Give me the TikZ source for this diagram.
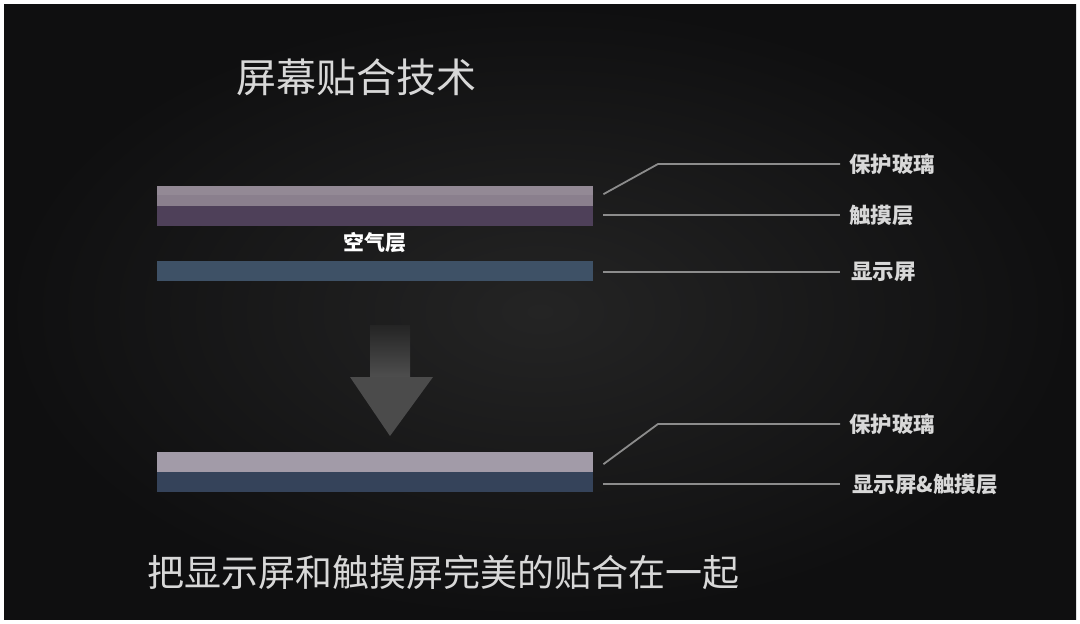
\documentclass[tikz,border=0pt]{standalone}
\usepackage{fontspec}
\setmainfont{Noto Sans CJK SC}
\newfontfamily\cjk{Noto Sans CJK SC}
\definecolor{bgin}{HTML}{242424}
\definecolor{bgout}{HTML}{0F0F10}
\definecolor{glassA}{HTML}{8A7F8D}
\definecolor{touchA}{HTML}{4E4059}
\definecolor{dispA}{HTML}{3E5166}
\definecolor{glassB}{HTML}{A29BA8}
\definecolor{dispB}{HTML}{35435A}
\definecolor{leader}{HTML}{8C8C8C}
\definecolor{txt}{HTML}{D8D8D8}
\begin{document}
\begin{tikzpicture}[x=1pt,y=-1pt,
  layer/.style={draw=none,minimum width=436pt,minimum height=20pt,inner sep=0pt,anchor=north west},
  leadline/.style={draw=leader,line width=1.8pt},
  lbl/.style={anchor=west,inner sep=0pt,text=txt,font=\cjk\bfseries\fontsize{21.5}{21.5}\selectfont},
  bigtxt/.style={anchor=west,inner sep=0pt,text=txt,font=\cjk\fontsize{37}{37}\selectfont}]
\useasboundingbox (0,0) rectangle (1080,624);
\fill[white] (0,0) rectangle (1080,624);
\shade[inner color=bgin,outer color=bgout] (4,4) rectangle (1076,619);
% title
\node[bigtxt,font=\cjk\fontsize{40}{40}\selectfont] (title) at (236,77) {屏幕贴合技术};
% upper stack
\node[layer,fill=glassA] (g1) at (157,186) {};
\fill[white,opacity=0.08] (157,186) rectangle (593,195);
\node[layer,fill=touchA] (t1) at (157,206) {};
\node[layer,fill=dispA] (d1) at (157,261) {};
\node[anchor=center,inner sep=0pt,text=white,font=\cjk\bfseries\fontsize{21}{21}\selectfont] (air) at (375,243) {空气层};
% labels upper
\node[lbl] (lg1) at (849,164) {保护玻璃};
\node[lbl] (lt1) at (849,215) {触摸层};
\node[lbl] (ld1) at (851,272) {显示屏};
\coordinate (b1) at (658,164);
\draw[leadline] ([xshift=10pt,yshift=2pt]g1.east) -- (b1) -- ([xshift=-9pt]lg1.west);
\draw[leadline] ([xshift=10pt]t1.east |- lt1.west) -- ([xshift=-9pt]lt1.west);
\draw[leadline] ([xshift=10pt]d1.east |- ld1.west) -- ([xshift=-11pt]ld1.west);
% arrow
\shade[top color=bgin,bottom color=black!60!white!65!bgin] (370,325) rectangle (410,378);
\fill[black!60!white!60!bgin] (350,377) -- (433,377) -- (390,436) -- cycle;
% lower stack
\node[layer,fill=glassB] (g2) at (157,452) {};
\node[layer,fill=dispB] (d2) at (157,472) {};
\node[lbl] (lg2) at (849,424) {保护玻璃};
\node[lbl] (ld2) at (852,484) {显示屏\&触摸层};
\coordinate (b2) at (658,424);
\draw[leadline] ([xshift=10pt,yshift=-2pt]g2.east) -- (b2) -- ([xshift=-9pt]lg2.west);
\draw[leadline] ([xshift=10pt]d2.east |- ld2.west) -- ([xshift=-12pt]ld2.west);
% bottom caption
\node[bigtxt] (cap) at (147,572) {把显示屏和触摸屏完美的贴合在一起};
\end{tikzpicture}
\end{document}
